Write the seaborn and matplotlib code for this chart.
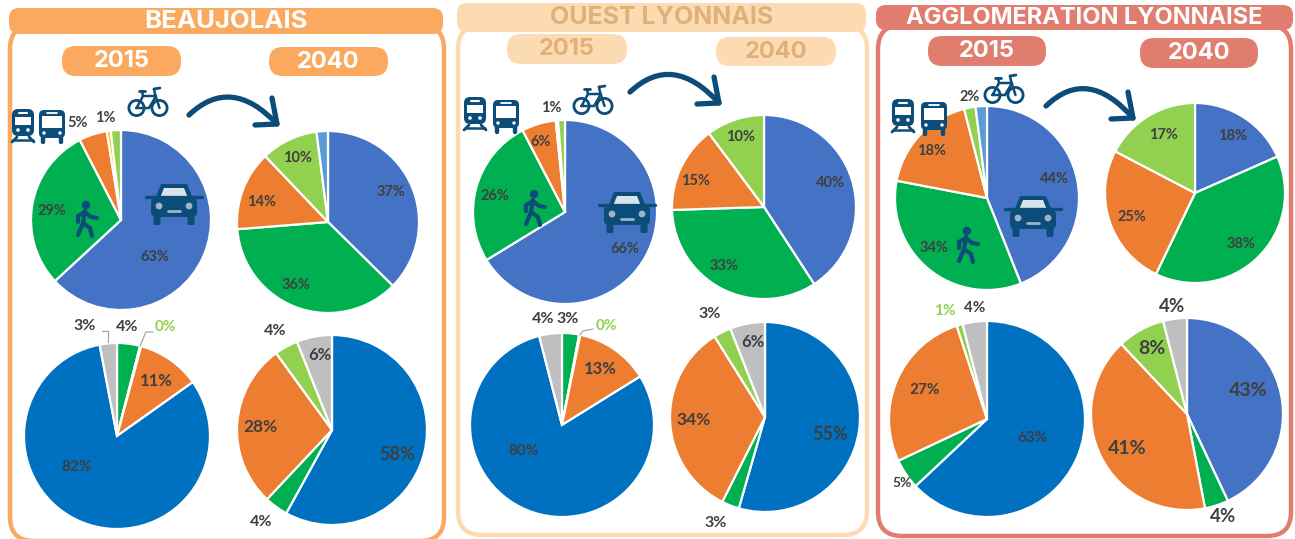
import matplotlib
matplotlib.use('Agg')
import matplotlib.pyplot as plt
import seaborn as sns
from matplotlib.patches import FancyBboxPatch, PathPatch, Circle, Polygon
from matplotlib.path import Path

sns.set_theme(style='white')
plt.rcParams['font.family'] = ['Lato', 'DejaVu Sans']

W, H = 1295, 539

# parts, clockwise from the top
beau_modes_2015 = [62.5, 29, 5, 0.7, 1.8]
beau_modes_2040 = [37, 36, 14, 10, 2]
ouest_modes_2015 = [66, 26, 6, 0.4, 1.2]
ouest_modes_2040 = [40, 33, 15, 10]
agglo_modes_2015 = [44, 34, 18, 2, 2]
agglo_modes_2040 = [18, 38, 25, 17]

beau_km_2015 = [4, 0.2, 11, 82, 3]
beau_km_2040 = [58, 4, 28, 4, 6]
ouest_km_2015 = [3, 0.2, 13, 80, 4]
ouest_km_2040 = [55, 3, 34, 3, 6]
agglo_km_2015 = [63, 5, 27, 1, 4]
agglo_km_2040 = [43, 4, 41, 8, 4]

zones = ['BEAUJOLAIS', 'OUEST LYONNAIS', 'AGGLOMERATION LYONNAISE']
years = ['2015', '2040']

# colours
c_car, c_walk, c_tc, c_bike, c_sky, c_grey, c_deep, c_yel = sns.color_palette(
    ['#4472C4', '#00B050', '#ED7D31', '#92D050', '#5B9BD5', '#BFBFBF', '#0070C0', '#FFC000'])
zone_col = ['#FAA95F', '#FCDBB3', '#E17D6E']
ink = '#0B4C78'
txt = '#3F3F3F'

fig = plt.figure(figsize=(W / 100, H / 100), dpi=100, facecolor='white')
bg = fig.add_axes([0, 0, 1, 1], zorder=0)
bg.set_xlim(0, W)
bg.set_ylim(H, 0)
bg.axis('off')
top = fig.add_axes([0, 0, 1, 1], zorder=5)
top.set_xlim(0, W)
top.set_ylim(H, 0)
top.axis('off')
top.patch.set_alpha(0)


def box(ax, x0, y0, x1, y1, rad, **kw):
    p = FancyBboxPatch((x0, y0), x1 - x0, y1 - y0, boxstyle=f'round,pad=0,rounding_size={rad}', **kw)
    ax.add_patch(p)
    return p


def pie(vals, cols, cx, cy, r, lw=1.6):
    ax = fig.add_axes([(cx - r) / W, 1 - (cy + r) / H, 2 * r / W, 2 * r / H], zorder=2)
    ax.pie(vals, colors=cols, startangle=90, counterclock=False, radius=1,
           wedgeprops={'edgecolor': 'white', 'linewidth': lw})
    ax.set_xlim(-1, 1)
    ax.set_ylim(-1, 1)


def car(x, y, s=1.0):
    box(top, x - 23 * s, y - 5 * s, x + 23 * s, y + 14 * s, 5 * s, fc=ink, ec='none')
    top.add_patch(Polygon([(x - 19 * s, y - 4 * s), (x - 13 * s, y - 19 * s), (x + 13 * s, y - 19 * s),
                           (x + 19 * s, y - 4 * s)], closed=True, fc=ink, ec='none'))
    top.add_patch(Polygon([(x - 14 * s, y - 5 * s), (x - 10 * s, y - 15 * s), (x + 10 * s, y - 15 * s),
                           (x + 14 * s, y - 5 * s)], closed=True, fc='white', ec='none', alpha=.85))
    top.plot([x - 28 * s, x + 28 * s], [y - 6 * s, y - 6 * s], color=ink, lw=2.4 * s, solid_capstyle='round')
    for d in (-1, 1):
        top.add_patch(Circle((x + d * 15 * s, y + 3 * s), 3.4 * s, fc='#9DB4C8', ec='none'))
        box(top, x + d * 17 * s - 3.5 * s, y + 12 * s, x + d * 17 * s + 3.5 * s, y + 22 * s, 1.5, fc=ink, ec='none')
    top.plot([x - 6 * s, x + 6 * s], [y + 8 * s, y + 8 * s], color='#9DB4C8', lw=2 * s)


def walker(x, y):
    top.add_patch(Circle((x + 1, y - 13), 4.2, fc=ink, ec='none'))
    lines = [[(x, y - 7), (x - 2, y + 5)], [(x - 2, y + 5), (x - 7, y + 17)], [(x - 2, y + 5), (x + 5, y + 10), (x + 7, y + 18)],
             [(x, y - 6), (x + 6, y - 1), (x + 12, y)], [(x, y - 6), (x - 7, y - 2), (x - 7, y + 4)]]
    for ln in lines:
        top.plot(*zip(*ln), color=ink, lw=3, solid_capstyle='round', solid_joinstyle='round')


def train(x, y):
    box(top, x - 11, y - 16, x + 11, y + 11, 6, fc=ink, ec='none')
    top.add_patch(Polygon([(x - 8, y - 8), (x + 8, y - 8), (x + 8, y), (x - 8, y)], fc='white', ec='none'))
    top.plot([x - 4, x + 4], [y - 12, y - 12], color='white', lw=1.5)
    for d in (-1, 1):
        top.add_patch(Circle((x + d * 5, y + 5), 1.8, fc='white', ec='none'))
        top.plot([x + d * 6, x + d * 11], [y + 12, y + 17], color=ink, lw=2)
    top.plot([x - 10, x + 10], [y + 15, y + 15], color=ink, lw=1.8)


def bus(x, y):
    box(top, x - 13, y - 15, x + 13, y + 13, 5, fc=ink, ec='none')
    top.add_patch(Polygon([(x - 10, y - 9), (x + 10, y - 9), (x + 10, y + 3), (x - 10, y + 3)], fc='white', ec='none'))
    top.plot([x - 5, x + 5], [y - 12, y - 12], color='white', lw=1.3)
    for d in (-1, 1):
        top.add_patch(Circle((x + d * 8, y + 8), 1.7, fc='white', ec='none'))
        top.plot([x + d * 9, x + d * 9], [y + 13, y + 17], color=ink, lw=3.2)


def bike(x, y):
    for d in (-1, 1):
        top.add_patch(Circle((x + d * 11.5, y + 5), 7.6, fc='none', ec=ink, lw=2))
    frame = [(x - 11.5, y + 5), (x - 5, y - 7), (x + 8, y - 7), (x + 1, y + 5), (x - 11.5, y + 5)]
    top.plot(*zip(*frame), color=ink, lw=1.8)
    top.plot([x - 5, x - 6], [y - 7, y - 12], color=ink, lw=1.8)
    top.plot([x - 9, x - 3], [y - 12, y - 12], color=ink, lw=2)
    top.plot([x + 11.5, x + 7, x + 6], [y + 5, y - 9, y - 14], color=ink, lw=1.8)
    top.plot([x + 6, x + 12], [y - 14, y - 15], color=ink, lw=2)


def arrow(x0, y0, x1, y1):
    mx = (x0 + x1) / 2 - 2
    path = Path([(x0, y0), (mx, y0 - 40), (x1, y1)], [Path.MOVETO, Path.CURVE3, Path.CURVE3])
    top.add_patch(PathPatch(path, fc='none', ec=ink, lw=3.8, capstyle='round'))
    top.plot([x1 - 5, x1, x1 - 22], [y1 - 26, y1, y1 + 1], color=ink, lw=3.8,
             solid_capstyle='round', solid_joinstyle='round')


# panel frames, headers and year pills
frames = [(10, 25, 444, 541), (458, 25, 867, 535), (878, 25, 1291, 536)]
headers = [(9, 8, 443, 34), (457, 3, 866, 32), (876, 5, 1293, 30)]
pills = [[(62, 46, 181, 76), (269, 47, 388, 76)],
         [(507, 34, 627, 64), (716, 37, 836, 66)],
         [(928, 36, 1046, 66), (1140, 38, 1258, 68)]]
title_col = ['white', '#E0B07A', 'white']
title_size = [18.5, 18, 17]
for i, zone in enumerate(zones):
    col = zone_col[i]
    f = frames[i]
    box(bg, f[0], f[1], f[2], f[3], 24, fc='white', ec=col, lw=3.2)
    h = headers[i]
    box(bg, h[0], h[1], h[2], h[3], 10, fc=col, ec='none')
    top.text((h[0] + h[2]) / 2, (h[1] + h[3]) / 2 + 0.5, zone, color=title_col[i], fontsize=title_size[i], fontweight='bold',
             family=['Inter', 'DejaVu Sans'], ha='center', va='center')
    for j, yr in enumerate(years):
        p = pills[i][j]
        box(bg, p[0], p[1], p[2], p[3], 14, fc=col, ec='none')
        top.text((p[0] + p[2]) / 2, (p[1] + p[3]) / 2, yr, color=title_col[i], fontsize=17, fontweight='bold',
                 family=['Inter', 'DejaVu Sans'], ha='center', va='center')

# pies
five = [c_car, c_walk, c_tc, c_bike, c_sky]
small_yel = [c_car, c_walk, c_tc, c_yel, c_bike]
km_a = [c_walk, c_bike, c_tc, c_deep, c_grey]
km_b = [c_deep, c_walk, c_tc, c_bike, c_grey]
pie(beau_modes_2015, small_yel, 121, 220, 90)
pie(beau_modes_2040, five, 328, 222, 91)
pie(ouest_modes_2015, small_yel, 565, 212, 92)
pie(ouest_modes_2040, [c_car, c_walk, c_tc, c_bike], 764, 207, 92)
pie(agglo_modes_2015, five, 987, 198, 92)
pie(agglo_modes_2040, [c_car, c_walk, c_tc, c_bike], 1195, 193, 90)
pie(beau_km_2015, km_a, 117, 436, 93)
pie(beau_km_2040, km_b, 332, 430, 95)
pie(ouest_km_2015, km_a, 562, 425, 92)
pie(ouest_km_2040, km_b, 765, 417, 95)
pie(agglo_km_2015, km_b, 987, 419, 98)
pie(agglo_km_2040, [c_car, c_walk, c_tc, c_bike, c_grey], 1187, 414, 96)

# percentage labels: text, x, y, size
labels = [
    ('5%', 78, 123, 10.5), ('1%', 105, 118, 10.5), ('29%', 52, 211, 10.5), ('63%', 155, 257, 10.5),
    ('37%', 391, 192, 10.5), ('36%', 296, 285, 10.5), ('14%', 262, 202, 10.5), ('10%', 298, 158, 10.5),
    ('1%', 551, 108, 10.5), ('6%', 541, 142, 10.5), ('26%', 495, 196, 10.5), ('66%', 625, 249, 10.5),
    ('40%', 830, 183, 10.5), ('33%', 724, 266, 10.5), ('15%', 696, 181, 10.5), ('10%', 741, 137, 10.5),
    ('2%', 970, 97, 10.5), ('18%', 932, 151, 10.5), ('44%', 1054, 179, 10.5), ('34%', 934, 248, 10.5),
    ('18%', 1233, 136, 10.5), ('38%', 1241, 244, 10.5), ('25%', 1132, 217, 10.5), ('17%', 1163, 135, 10.5),
    ('3%', 85, 326, 11.5), ('4%', 127, 327, 11.5), ('11%', 156, 381, 12), ('82%', 77, 467, 11),
    ('4%', 275, 331, 11.5), ('6%', 320, 355, 12), ('28%', 260, 427, 12.5), ('58%', 397, 455, 13), ('4%', 261, 522, 11.5),
    ('4%', 543, 319, 11.5), ('3%', 568, 319, 11.5), ('13%', 600, 369, 12), ('80%', 524, 451, 11),
    ('3%', 710, 314, 11.5), ('6%', 753, 342, 12), ('34%', 694, 420, 12.5), ('55%', 830, 435, 13), ('3%', 716, 523, 11.5),
    ('4%', 975, 308, 11), ('27%', 925, 390, 11), ('63%', 1033, 438, 11), ('5%', 902, 483, 10),
    ('4%', 1172, 307, 13.5), ('8%', 1152, 349, 14), ('41%', 1127, 448, 14), ('43%', 1248, 390, 14), ('4%', 1223, 517, 13.5),
]
for s, x, y, fs in labels:
    top.text(x, y, s, color=txt, fontsize=fs, fontweight='bold', ha='center', va='center')
for x, y, s in [(165, 327, '0%'), (606, 326, '0%'), (945, 311, '1%')]:
    top.text(x, y, s, color=c_bike, fontsize=11, fontweight='bold', ha='center', va='center')

# leader lines of the small slices
leaders = [([102, 108, 108], [331, 331, 342]), ([153, 146, 140], [332, 332, 346]),
           ([593, 583, 580], [329, 331, 335])]
for xs, ys in leaders:
    top.plot(xs, ys, color='#A6A6A6', lw=0.9)

# mode icons
for cx, cy in [(174, 203), (627, 211), (1033, 215)]:
    car(cx, cy)
for wx, wy in [(85, 218), (533, 207), (966, 244)]:
    walker(wx, wy)
for tx, ty in [(23, 125), (475, 113), (903, 115)]:
    train(tx, ty)
for bx, by in [(52, 125), (506, 115), (934, 117)]:
    bus(bx, by)
for kx, ky in [(148, 103), (593, 101), (1004, 90)]:
    bike(kx, ky)
arrow(189, 115, 277, 124)
arrow(630, 92, 719, 103)
arrow(1046, 106, 1133, 118)

fig.savefig('out.png', dpi=100)
